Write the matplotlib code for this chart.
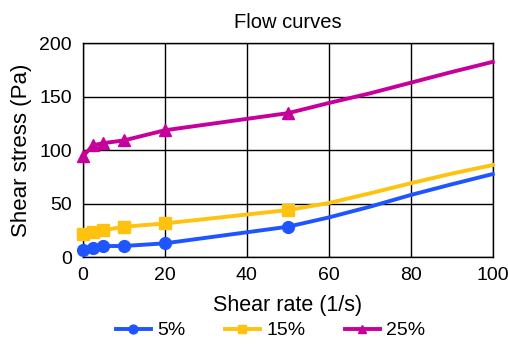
import numpy as np
import matplotlib.pyplot as plt

plt.rcParams['font.family'] = ['Liberation Sans', 'DejaVu Sans']

# shear rate (1/s); markers on the measured points, line continues to 100
shear_rate = [0, 2.5, 5, 10, 20, 50, 60, 70, 80, 90, 100]
n_measured = 6

stress_5 = [6.5, 8.5, 10.3, 10.3, 12.8, 28.3, 37, 47, 58, 68, 77.6]
stress_15 = [21.5, 23.7, 25, 28.3, 31.4, 43.9, 50.5, 59.5, 69, 78, 86]
stress_25 = [94, 104.5, 106.5, 109, 118.5, 134.5, 144, 153, 163, 173, 182.5]

labels = ['5%', '15%', '25%']
colors = ['#1f55ff', '#ffc20e', '#c8009b']
markers = ['o', 's', '^']

fig = plt.figure(figsize=(5.08, 3.45), dpi=100)
ax = fig.add_axes([0.163, 0.255, 0.807, 0.62])

for y, lab, c, m in zip([stress_5, stress_15, stress_25], labels, colors, markers):
    ax.plot(shear_rate, y, color=c, lw=2.8, marker=m, markersize=8.5,
            markevery=list(range(n_measured)), label=lab, clip_on=False, zorder=3)

ax.set_xlim(0, 100)
ax.set_ylim(0, 200)
ax.set_xticks(np.arange(0, 101, 20))
ax.set_yticks(np.arange(0, 201, 50))
ax.grid(True, color='black', lw=1)
ax.tick_params(length=0, labelsize=14)
ax.tick_params(axis='x', pad=7)
ax.tick_params(axis='y', pad=8)
for s in ax.spines.values():
    s.set_color('black')
    s.set_linewidth(1)

ax.set_title('Flow curves', fontsize=14.5, pad=11)
ax.set_xlabel('Shear rate (1/s)', fontsize=15.5, labelpad=8)
ax.set_ylabel('Shear stress (Pa)', fontsize=16, labelpad=5)

fig.legend(*ax.get_legend_handles_labels(), loc='center',
           bbox_to_anchor=(0.533, 0.042), ncol=3, frameon=False, fontsize=14,
           handlelength=1.8, columnspacing=2.0, handletextpad=0.35,
           markerscale=0.75, borderpad=0)

fig.savefig('out.png', dpi=100)
